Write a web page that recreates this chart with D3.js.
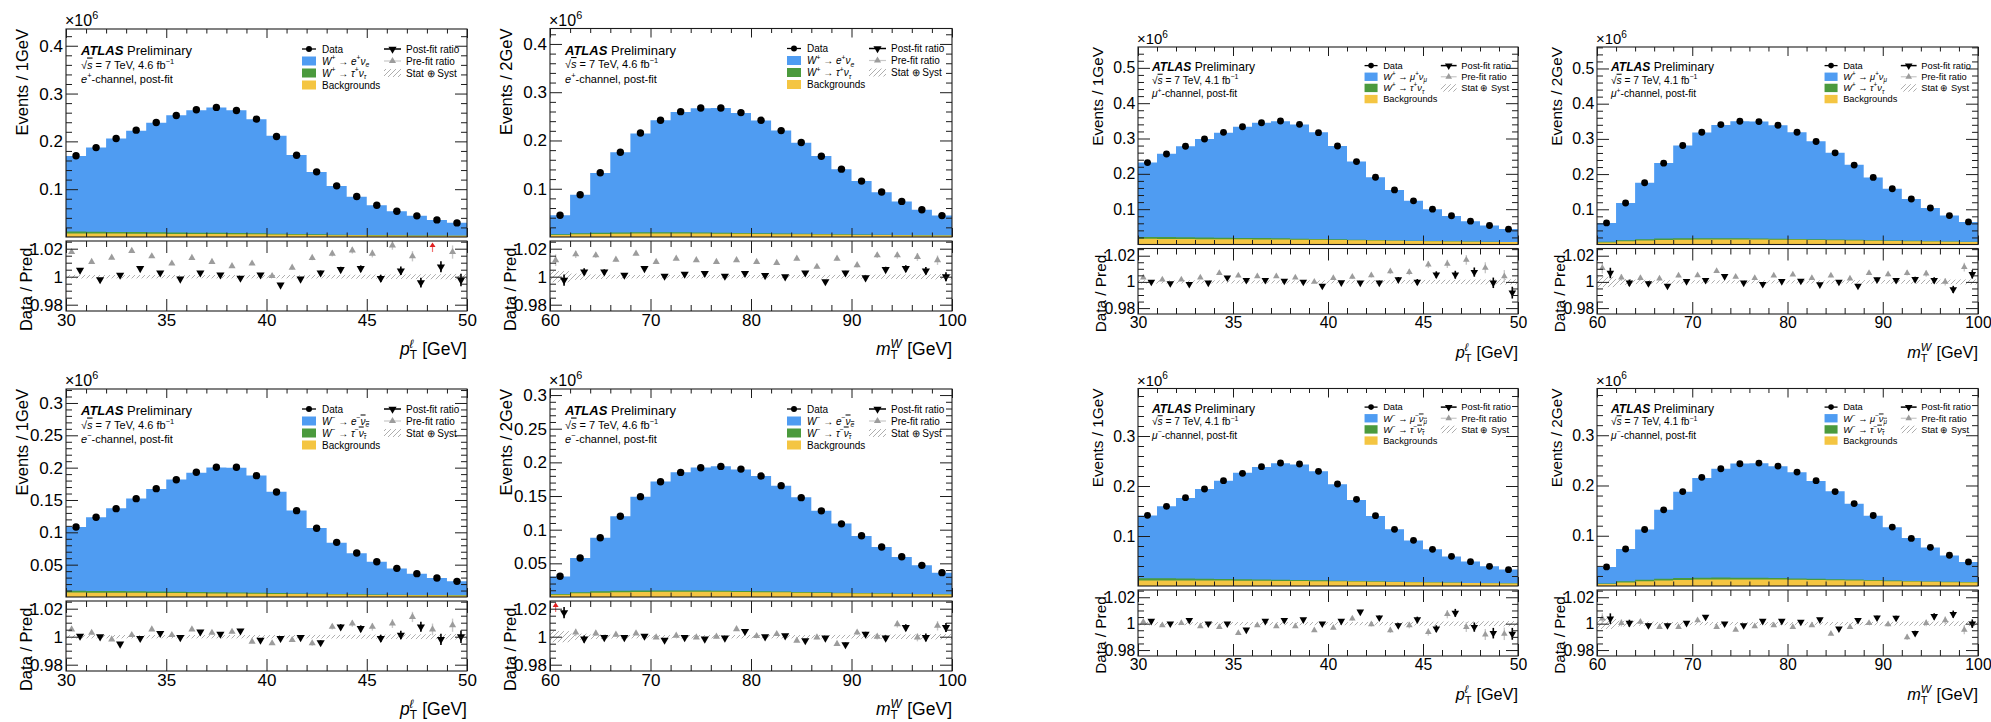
<!DOCTYPE html>
<html><head><meta charset="utf-8">
<script src="https://cdn.jsdelivr.net/npm/d3@7"></script>
<style>body{margin:0;background:#fff}svg{display:block}</style>
</head><body>
<svg id="c" width="1991" height="722"></svg>
<script>
// ---------------- data (values in units of 10^6 events) ----------------
const ptEdges = [30,31,32,33,34,35,36,37,38,39,40,41,42,43,44,45,46,47,48,49,50];
const mtEdges = [60,62,64,66,68,70,72,74,76,78,80,82,84,86,88,90,92,94,96,98,100];
const ptTickLabels = [30,35,40,45,50];
const mtTickLabels = [60,70,80,90,100];
const ratioTickLabels = [0.98,1,1.02];
const yTicksEPlus = [0.1,0.2,0.3,0.4];
const yTicksMuPlus = [0.1,0.2,0.3,0.4,0.5];
const yTicksEMinus = [0.05,0.1,0.15,0.2,0.25,0.3];
const yTicksMuMinus = [0.1,0.2,0.3];

const ePlusPtData = [0.170,0.187,0.206,0.2235,0.2396,0.254,0.266,0.271,0.2647,0.2466,0.2103,0.171,0.1363,0.107,0.0847,0.0665,0.054,0.0442,0.0358,0.0295];
const ePlusPtBkg  = [0.0075,0.0073,0.0071,0.0069,0.0067,0.0065,0.0063,0.0061,0.0058,0.0055,0.0051,0.0047,0.0043,0.0039,0.0036,0.0033,0.003,0.0028,0.0026,0.0024];
const ePlusPtTau  = [0.004,0.0038,0.0036,0.0034,0.0032,0.003,0.0028,0.0026,0.0024,0.0021,0.0018,0.0015,0.0012,0.001,0.0008,0.0007,0.0006,0.0005,0.0004,0.0004];
const ePlusPtPre  = [1.0176,1.0106,1.0136,1.0184,1.0146,1.0094,1.0134,1.0106,1.0075,1.0094,1.0005,1.0064,1.0134,1.0165,1.0188,1.0165,1.0224,1.0146,1.031,1.0176];
const ePlusPtPost = [1.0047,0.998,1.0012,1.0059,1.0028,0.9984,1.0028,1.0014,0.999,1.0014,0.9941,0.9984,1.0028,1.0052,1.0059,0.9988,1.0042,0.9958,1.0071,0.9976];

const ePlusMtData = [0.045,0.0876,0.133,0.1757,0.2156,0.2418,0.2597,0.2673,0.2673,0.2577,0.2418,0.2205,0.1957,0.1674,0.1406,0.1158,0.0931,0.0738,0.0566,0.0443];
const ePlusMtBkg  = [0.004,0.0055,0.0063,0.0068,0.0071,0.0072,0.0072,0.0071,0.0069,0.0066,0.0063,0.0059,0.0055,0.0051,0.0047,0.0043,0.0039,0.0035,0.0032,0.0029];
const ePlusMtTau  = [0.0015,0.0022,0.0025,0.0026,0.0026,0.0025,0.0024,0.0022,0.002,0.0018,0.0016,0.0014,0.0012,0.001,0.0009,0.0008,0.0007,0.0006,0.0005,0.0004];
const ePlusMtPre  = [1.0118,1.016,1.0153,1.0122,1.0165,1.0106,1.0129,1.0118,1.0106,1.0118,1.0106,1.0099,1.0129,1.0071,1.0129,1.0082,1.0153,1.0153,1.0141,1.0118];
const ePlusMtPost = [0.9976,1.0035,1.0035,1.0012,1.0059,1.0005,1.0019,1.0024,1.0005,1.0024,1.0009,1.0,1.0028,0.9965,1.0028,0.9993,1.0052,1.0059,1.0042,1.0];

const muPlusPtData = [0.2318,0.2562,0.2779,0.2986,0.3174,0.3334,0.3447,0.3494,0.34,0.3165,0.2788,0.2346,0.1904,0.1546,0.1235,0.1,0.0812,0.0661,0.0539,0.0435];
const muPlusPtBkg  = [0.016,0.0158,0.0155,0.0152,0.015,0.0147,0.0144,0.014,0.0136,0.0131,0.0125,0.0118,0.0111,0.0104,0.0097,0.009,0.0084,0.0078,0.0073,0.0068];
const muPlusPtTau  = [0.0055,0.0052,0.0049,0.0046,0.0043,0.004,0.0037,0.0034,0.003,0.0026,0.0022,0.0018,0.0015,0.0012,0.001,0.0008,0.0007,0.0006,0.0005,0.0004];
const muPlusPtPre  = [1.0033,1.0018,1.0018,1.0033,1.0068,1.0048,1.0043,1.0043,1.0033,1.0,1.003,1.0038,1.005,1.008,1.0075,1.0133,1.0138,1.0168,1.0108,1.0043];
const muPlusPtPost = [1.0,0.9988,0.9983,0.9993,1.0033,1.0013,1.0013,1.0008,1.0,0.997,0.9995,0.9993,0.9993,1.0018,1.0,1.0055,1.0055,1.0075,0.9993,0.9918];

const muPlusMtData = [0.0613,0.1179,0.1755,0.2311,0.2811,0.3189,0.3406,0.35,0.3491,0.3387,0.3189,0.2925,0.2604,0.2255,0.1906,0.1585,0.1292,0.1038,0.0821,0.0642];
const muPlusMtBkg  = [0.006,0.0095,0.0115,0.0128,0.0136,0.014,0.0142,0.0142,0.014,0.0137,0.0133,0.0128,0.0122,0.0115,0.0108,0.01,0.0093,0.0086,0.0079,0.0073];
const muPlusMtTau  = [0.0015,0.0028,0.0036,0.004,0.0041,0.004,0.0038,0.0035,0.0032,0.0029,0.0026,0.0023,0.002,0.0017,0.0015,0.0013,0.0011,0.0009,0.0008,0.0007];
const muPlusMtPre  = [1.0105,1.0033,1.003,1.0025,1.0048,1.005,1.0083,1.0038,1.003,1.0048,1.0055,1.003,1.0048,1.0025,1.0068,1.0058,1.0068,1.0063,1.0,1.0113];
const muPlusMtPost = [1.0068,0.9993,0.9988,0.997,1.0005,1.0013,1.0043,0.9993,0.9983,1.0005,1.0008,0.998,1.0,0.997,1.0018,1.0013,1.002,1.0013,0.9943,1.0058];

const eMinusPtData = [0.1082,0.1232,0.1366,0.1521,0.1675,0.1814,0.1928,0.2005,0.2005,0.1876,0.1624,0.1335,0.1062,0.0845,0.068,0.0546,0.0443,0.0361,0.0294,0.0242];
const eMinusPtBkg  = [0.0068,0.0067,0.0065,0.0064,0.0062,0.006,0.0058,0.0056,0.0054,0.0051,0.0048,0.0045,0.0041,0.0038,0.0035,0.0032,0.003,0.0028,0.0026,0.0024];
const eMinusPtTau  = [0.0028,0.0027,0.0026,0.0025,0.0024,0.0022,0.0021,0.0019,0.0017,0.0015,0.0013,0.0011,0.0009,0.0008,0.0007,0.0006,0.0005,0.0004,0.0004,0.0003];
const eMinusPtPre  = [1.0052,1.0028,0.9981,1.0012,1.0052,1.0012,1.0052,1.0028,1.0035,0.9965,0.9953,0.9976,0.9953,1.0071,1.0094,1.0071,1.0094,1.0141,1.0052,1.0082];
const eMinusPtPost = [1.0005,1.0,0.9948,0.9988,1.0024,0.9995,1.0035,1.0019,1.0042,0.9976,0.9988,0.9995,0.9958,1.0071,1.0059,0.9988,1.0012,1.0071,0.9981,1.0];

const eMinusMtData = [0.0308,0.0579,0.088,0.12,0.1491,0.1713,0.1851,0.192,0.194,0.19,0.1797,0.1654,0.1476,0.128,0.1087,0.0909,0.0742,0.0599,0.047,0.0362];
const eMinusMtBkg  = [0.0035,0.0055,0.0065,0.0071,0.0075,0.0077,0.0078,0.0078,0.0077,0.0075,0.0072,0.0069,0.0065,0.0061,0.0057,0.0053,0.0049,0.0045,0.0041,0.0038];
const eMinusMtTau  = [0.001,0.0016,0.0019,0.002,0.002,0.0019,0.0018,0.0017,0.0016,0.0014,0.0013,0.0012,0.001,0.0009,0.0008,0.0007,0.0006,0.0005,0.0005,0.0004];
const eMinusMtPre  = [1.03,1.003,1.0024,1.0014,1.0024,0.9995,1.0007,0.9995,1.0,1.0054,1.0005,1.0019,0.9972,0.9995,0.9948,1.003,1.0,1.0089,0.9995,1.0078];
const eMinusMtPost = [1.0172,0.9984,0.9995,0.9995,1.0005,0.9976,0.9995,0.9984,0.9991,1.0038,1.0,1.0007,0.9972,0.9991,0.9944,1.0019,0.9991,1.0066,0.9995,1.0066];

const muMinusPtData = [0.1413,0.1593,0.1767,0.194,0.2107,0.2253,0.2387,0.246,0.244,0.2293,0.204,0.1733,0.1407,0.1133,0.0913,0.0733,0.0593,0.0487,0.0393,0.0327];
const muMinusPtBkg  = [0.0112,0.0111,0.011,0.0109,0.0108,0.0106,0.0104,0.0102,0.01,0.0097,0.0093,0.0088,0.0083,0.0078,0.0073,0.0068,0.0063,0.0058,0.0054,0.005];
const muMinusPtTau  = [0.0045,0.0043,0.004,0.0037,0.0034,0.0031,0.0027,0.0024,0.002,0.0017,0.0014,0.0012,0.001,0.0008,0.0007,0.0006,0.0005,0.0004,0.0003,0.0003];
const muMinusPtPre  = [1.0013,0.9987,1.0005,0.9979,0.9974,0.9928,0.9987,0.9979,0.9979,0.9949,0.9969,1.0038,0.9995,0.9949,0.9987,0.9936,1.0072,0.9974,0.9918,0.9923];
const muMinusPtPost = [1.002,1.0,1.0026,1.0,1.0,0.9954,1.002,1.0026,1.0031,1.0,1.002,1.009,1.0046,0.9987,1.0031,0.9962,1.0082,0.9974,0.9928,0.9923];

const muMinusMtData = [0.038,0.0736,0.1125,0.1515,0.1878,0.2162,0.2333,0.2432,0.2446,0.2386,0.2267,0.2096,0.1878,0.164,0.1403,0.1172,0.0947,0.0769,0.0611,0.0479];
const muMinusMtBkg  = [0.004,0.0072,0.0095,0.011,0.012,0.0127,0.013,0.0131,0.013,0.0128,0.0125,0.0121,0.0116,0.011,0.0104,0.0097,0.009,0.0083,0.0077,0.0071];
const muMinusMtTau  = [0.001,0.0022,0.0031,0.0036,0.0038,0.0038,0.0037,0.0035,0.0032,0.0029,0.0026,0.0023,0.002,0.0018,0.0015,0.0013,0.0011,0.0009,0.0008,0.0007];
const muMinusMtPre  = [1.0038,1.0005,1.0013,0.9974,0.9974,1.0026,0.9974,0.9954,0.9979,0.9987,0.9974,0.9987,0.9923,0.9974,1.0005,0.9995,0.9897,1.0005,1.0026,0.9954];
const muMinusMtPost = [1.0038,1.0005,0.9987,0.9987,1.0005,1.0051,1.0,0.9987,1.002,1.002,1.0013,1.0031,0.9962,1.0026,1.0046,1.0044,0.9928,1.0056,1.0072,1.0];

// ratio uncertainties (half-widths)
const errPt  = [0.001,0.001,0.001,0.001,0.001,0.001,0.001,0.001,0.001,0.001,0.0012,0.0014,0.0016,0.0019,0.0022,0.0026,0.003,0.0035,0.004,0.0045];
const errMt  = [0.004,0.0025,0.0018,0.0014,0.0012,0.001,0.001,0.001,0.001,0.001,0.001,0.001,0.0011,0.0012,0.0014,0.0016,0.0019,0.0023,0.0027,0.0032];
const bandPt = [0.0013,0.0012,0.0012,0.0012,0.0012,0.0012,0.0012,0.0012,0.0012,0.0012,0.0012,0.0012,0.0013,0.0013,0.0014,0.0015,0.0016,0.0017,0.0018,0.002];
const bandMt = [0.004,0.0022,0.0016,0.0013,0.0012,0.0012,0.0012,0.0012,0.0012,0.0012,0.0012,0.0012,0.0012,0.0013,0.0013,0.0014,0.0015,0.0016,0.0017,0.0019];

// ---------------- layout / style ----------------
const FONT = '"Liberation Sans", Arial, Helvetica, sans-serif';
const BLUE = '#4f9cf2', GREEN = '#4b9a3d', YELLOW = '#f4c542', FRAME = '#1c1c1c';
const PREC = '#9c9c9c', PREERR = '#c8c8c8';
const RATIO_DOMAIN = [0.9755, 1.0255];

const L1 = {x0:66, x1:467}, L2 = {x0:550, x1:952}, R1 = {x0:1138, x1:1518}, R2 = {x0:1597, x1:1978};
const TOPL = {top:29, mainBot:237, rTop:241, rBot:311, s:1};
const BOTL = {top:389, mainBot:597, rTop:601, rBot:671, s:1};
const TOPR = {top:47, mainBot:244.5, rTop:248.5, rBot:314, s:0.93};
const BOTR = {top:388.5, mainBot:586, rTop:590, rBot:656, s:0.93};

const panels = [
  {pos:{...L1,...TOPL}, kind:'pt', data:ePlusPtData, bkg:ePlusPtBkg, tau:ePlusPtTau, pre:ePlusPtPre, post:ePlusPtPost, yMax:0.435, yTicks:yTicksEPlus, yMinor:0.02, lep:'e', ch:'+', lumi:'4.6'},
  {pos:{...L2,...TOPL, top:28.5}, kind:'mt', data:ePlusMtData, bkg:ePlusMtBkg, tau:ePlusMtTau, pre:ePlusMtPre, post:ePlusMtPost, yMax:0.432, yTicks:yTicksEPlus, yMinor:0.02, lep:'e', ch:'+', lumi:'4.6'},
  {pos:{...R1,...TOPR}, kind:'pt', data:muPlusPtData, bkg:muPlusPtBkg, tau:muPlusPtTau, pre:muPlusPtPre, post:muPlusPtPost, yMax:0.559, yTicks:yTicksMuPlus, yMinor:0.02, lep:'μ', ch:'+', lumi:'4.1'},
  {pos:{...R2,...TOPR}, kind:'mt', data:muPlusMtData, bkg:muPlusMtBkg, tau:muPlusMtTau, pre:muPlusMtPre, post:muPlusMtPost, yMax:0.561, yTicks:yTicksMuPlus, yMinor:0.02, lep:'μ', ch:'+', lumi:'4.1'},
  {pos:{...L1,...BOTL}, kind:'pt', data:eMinusPtData, bkg:eMinusPtBkg, tau:eMinusPtTau, pre:eMinusPtPre, post:eMinusPtPost, yMax:0.3216, yTicks:yTicksEMinus, yMinor:0.01, lep:'e', ch:'−', lumi:'4.6'},
  {pos:{...L2,...BOTL}, kind:'mt', data:eMinusMtData, bkg:eMinusMtBkg, tau:eMinusMtTau, pre:eMinusMtPre, post:eMinusMtPost, yMax:0.309, yTicks:yTicksEMinus, yMinor:0.01, lep:'e', ch:'−', lumi:'4.6'},
  {pos:{...R1,...BOTR}, kind:'pt', data:muMinusPtData, bkg:muMinusPtBkg, tau:muMinusPtTau, pre:muMinusPtPre, post:muMinusPtPost, yMax:0.395, yTicks:yTicksMuMinus, yMinor:0.02, lep:'μ', ch:'−', lumi:'4.1'},
  {pos:{...R2,...BOTR}, kind:'mt', data:muMinusMtData, bkg:muMinusMtBkg, tau:muMinusMtTau, pre:muMinusMtPre, post:muMinusMtPost, yMax:0.393, yTicks:yTicksMuMinus, yMinor:0.02, lep:'μ', ch:'−', lumi:'4.1'}
];

const svg = d3.select('#c').attr('font-family', FONT);
const defs = svg.append('defs');
const pat = defs.append('pattern').attr('id','hatch').attr('patternUnits','userSpaceOnUse')
  .attr('width',5).attr('height',5);
pat.append('path').attr('d','M-1,1 l2,-2 M0,5 l5,-5 M4,6 l2,-2')
  .attr('stroke','#999').attr('stroke-width',0.8);

function rich(t, segs, fs) {
  let off = 0;
  segs.forEach(sg => {
    const target = sg.sup ? -fs*0.42 : (sg.sub ? fs*0.25 : 0);
    const ts = t.append('tspan').text(sg.t).attr('dy', target - off);
    off = target;
    if (sg.sup || sg.sub) ts.attr('font-size', fs*0.68);
    if (sg.i) ts.attr('font-style','italic');
    if (sg.b) ts.attr('font-weight','bold');
    if (sg.o) ts.style('text-decoration','overline');
    if (sg.dx) ts.attr('dx', sg.dx);
  });
  return t;
}

function drawPanel(p, idx) {
  const P = p.pos, s = P.s;
  const g = svg.append('g');
  const edges = p.kind === 'pt' ? ptEdges : mtEdges;
  const majors = p.kind === 'pt' ? ptTickLabels : mtTickLabels;
  const err = p.kind === 'pt' ? errPt : errMt;
  const band = p.kind === 'pt' ? bandPt : bandMt;
  const n = edges.length - 1;
  const bw = edges[1] - edges[0];
  const centers = edges.slice(0, n).map((e, i) => (e + edges[i+1]) / 2);

  const x = d3.scaleLinear().domain([edges[0], edges[n]]).range([P.x0, P.x1]);
  const y = d3.scaleLinear().domain([0, p.yMax]).range([P.mainBot, P.top]);
  const yr = d3.scaleLinear().domain(RATIO_DOMAIN).range([P.rBot, P.rTop]);

  // stacked histograms
  const total = p.data.map((d, i) => d / p.post[i]);
  const bkgTau = p.bkg.map((b, i) => b + p.tau[i]);
  const steps = arr => edges.map((e, i) => ({e, v: arr[Math.min(i, n-1)]}));
  const area = d3.area().curve(d3.curveStepAfter).x(d => x(d.e)).y0(y(0)).y1(d => y(d.v));
  g.append('path').attr('d', area(steps(total))).attr('fill', BLUE);
  g.append('path').attr('d', area(steps(bkgTau))).attr('fill', GREEN);
  g.append('path').attr('d', area(steps(p.bkg))).attr('fill', YELLOW);

  // data points
  g.append('g').selectAll('circle').data(p.data).join('circle')
    .attr('cx', (d, i) => x(centers[i])).attr('cy', d => y(d))
    .attr('r', 3.7*s).attr('fill', '#000');

  // ratio panel
  const clipId = 'rclip' + idx;
  defs.append('clipPath').attr('id', clipId).append('rect')
    .attr('x', P.x0).attr('y', P.rTop).attr('width', P.x1 - P.x0).attr('height', P.rBot - P.rTop);
  const rg = g.append('g').attr('clip-path', `url(#${clipId})`);
  rg.selectAll('rect.band').data(band).join('rect')
    .attr('x', (d, i) => x(edges[i])).attr('width', (d, i) => x(edges[i+1]) - x(edges[i]))
    .attr('y', d => yr(1 + d)).attr('height', d => yr(1 - d) - yr(1 + d))
    .attr('fill', 'url(#hatch)');

  const triUp = d3.symbol(d3.symbolTriangle, 22*s*s);
  const triDown = d3.symbol(d3.symbolTriangle, 29*s*s);
  const preX = i => x(centers[i] - 0.22*bw);
  const postX = i => x(centers[i] + 0.2*bw);
  const inRange = v => v <= RATIO_DOMAIN[1] && v >= RATIO_DOMAIN[0];

  // pre-fit
  rg.selectAll('line.preErr').data(p.pre).join('line')
    .attr('x1', (d, i) => preX(i)).attr('x2', (d, i) => preX(i))
    .attr('y1', (d, i) => yr(d + err[i]*1.05)).attr('y2', (d, i) => yr(d - err[i]*1.05))
    .attr('stroke', PREERR).attr('stroke-width', 1.4)
    .attr('display', d => inRange(d) ? null : 'none');
  rg.selectAll('path.pre').data(p.pre).join('path')
    .attr('d', triUp).attr('fill', PREC)
    .attr('transform', (d, i) => `translate(${preX(i)},${yr(d)})`)
    .attr('display', d => inRange(d) ? null : 'none');
  // out-of-range arrows
  p.pre.forEach((d, i) => {
    if (d > RATIO_DOMAIN[1]) {
      const xa = preX(i), ya = P.rTop;
      g.append('line').attr('x1', xa).attr('x2', xa).attr('y1', ya + 11).attr('y2', ya + 4)
        .attr('stroke', '#f07070').attr('stroke-width', 1.2);
      g.append('path').attr('d', `M${xa-3},${ya+6} L${xa},${ya+1.5} L${xa+3},${ya+6} Z`).attr('fill', '#e02020');
    }
  });
  // post-fit
  rg.selectAll('line.postErr').data(p.post).join('line')
    .attr('x1', (d, i) => postX(i)).attr('x2', (d, i) => postX(i))
    .attr('y1', (d, i) => yr(d + err[i])).attr('y2', (d, i) => yr(d - err[i]))
    .attr('stroke', '#000').attr('stroke-width', 1.6);
  rg.selectAll('path.post').data(p.post).join('path')
    .attr('d', triDown).attr('fill', '#000')
    .attr('transform', (d, i) => `translate(${postX(i)},${yr(d)}) rotate(180)`);

  // frames
  [[P.top, P.mainBot], [P.rTop, P.rBot]].forEach(([a, b]) => {
    g.append('rect').attr('x', P.x0).attr('y', a).attr('width', P.x1 - P.x0).attr('height', b - a)
      .attr('fill', 'none').attr('stroke', FRAME).attr('stroke-width', 1.1);
  });

  // axes helpers
  const fsTick = 17*s;
  function ax(gen, vals, size, tr, fmt) {
    const a = gen.tickValues(vals).tickSize(-size).tickPadding(3*s).tickFormat(fmt || '');
    const ag = g.append('g').attr('transform', tr).call(a);
    ag.select('.domain').remove();
    ag.selectAll('line').attr('stroke', FRAME).attr('stroke-width', 1);
    ag.attr('font-family', FONT).attr('font-size', fsTick);
    ag.selectAll('text').attr('fill', '#000');
    return ag;
  }
  const xMinor = edges.filter(e => !majors.includes(e));
  // main x
  ax(d3.axisBottom(x), majors, 9, `translate(0,${P.mainBot})`);
  ax(d3.axisBottom(x), xMinor, 4.5, `translate(0,${P.mainBot})`);
  ax(d3.axisTop(x), majors, 9, `translate(0,${P.top})`);
  ax(d3.axisTop(x), xMinor, 4.5, `translate(0,${P.top})`);
  // ratio x
  ax(d3.axisBottom(x), majors, 12, `translate(0,${P.rBot})`, d => String(d));
  ax(d3.axisBottom(x), xMinor, 6, `translate(0,${P.rBot})`);
  ax(d3.axisTop(x), majors, 12, `translate(0,${P.rTop})`);
  ax(d3.axisTop(x), xMinor, 6, `translate(0,${P.rTop})`);
  // main y
  const nMinor = Math.floor(p.yMax / p.yMinor + 1e-6);
  const yMinorVals = d3.range(1, nMinor + 1).map(k => +(k * p.yMinor).toFixed(4))
    .filter(v => !p.yTicks.some(t => Math.abs(t - v) < 1e-6));
  ax(d3.axisLeft(y), p.yTicks, 12, `translate(${P.x0},0)`, d => String(d));
  ax(d3.axisLeft(y), yMinorVals, 6, `translate(${P.x0},0)`);
  ax(d3.axisRight(y), p.yTicks, 12, `translate(${P.x1},0)`);
  ax(d3.axisRight(y), yMinorVals, 6, `translate(${P.x1},0)`);
  // ratio y
  const rMinor = d3.range(-5, 6).map(k => +(1 + k*0.005).toFixed(4))
    .filter(v => !ratioTickLabels.includes(v) && inRange(v));
  ax(d3.axisLeft(yr), ratioTickLabels, 12, `translate(${P.x0},0)`, d => String(d));
  ax(d3.axisLeft(yr), rMinor, 6, `translate(${P.x0},0)`);
  ax(d3.axisRight(yr), ratioTickLabels, 12, `translate(${P.x1},0)`);
  ax(d3.axisRight(yr), rMinor, 6, `translate(${P.x1},0)`);

  // axis titles
  const fsTitle = 16.5*s;
  g.append('text').attr('transform', `translate(${P.x0 - 38*s},${P.top}) rotate(-90)`)
    .attr('text-anchor', 'end').attr('font-size', fsTitle)
    .text(p.kind === 'pt' ? 'Events / 1GeV' : 'Events / 2GeV');
  g.append('text').attr('transform', `translate(${P.x0 - 34*s},${P.rTop + 2}) rotate(-90)`)
    .attr('text-anchor', 'end').attr('font-size', fsTitle).text('Data / Pred.');
  const fsX = 17.5*s;
  const xt = g.append('text').attr('x', P.x1).attr('y', P.rBot + 44).attr('text-anchor', 'end').attr('font-size', fsX);
  if (p.kind === 'pt') {
    rich(xt, [{t:'p', i:1}, {t:'T', sub:1}, {t:'ℓ', sup:1, i:1, dx:-0.42*fsX}, {t:'[GeV]', dx:0.5*fsX}], fsX);
  } else {
    rich(xt, [{t:'m', i:1}, {t:'T', sub:1}, {t:'W', sup:1, i:1, dx:-0.42*fsX}, {t:'[GeV]', dx:0.32*fsX}], fsX);
  }
  // x10^6
  const fsE = 16*s;
  rich(g.append('text').attr('x', P.x0 - 1).attr('y', P.top - 3).attr('font-size', fsE),
    [{t:'×10'}, {t:'6', sup:1}], fsE);

  // ATLAS label
  const ax0 = P.x0 + 15*s;
  rich(g.append('text').attr('x', ax0).attr('y', P.top + 26*s).attr('font-size', 13*s),
    [{t:'ATLAS', b:1, i:1}, {t:' Preliminary'}], 13*s);
  rich(g.append('text').attr('x', ax0).attr('y', P.top + 39.5*s).attr('font-size', 11*s),
    [{t:'√'}, {t:'s', i:1, o:1}, {t:' = 7 TeV, ' + p.lumi + ' fb'}, {t:'−1', sup:1}], 11*s);
  rich(g.append('text').attr('x', ax0).attr('y', P.top + 54*s).attr('font-size', 11*s),
    [{t:p.lep, i:1}, {t:p.ch, sup:1}, {t:'-channel, post-fit'}], 11*s);

  // legend
  const R = P.x1, fsL = 10*s;
  const rowY = k => P.top + (20 + 12*k)*s;
  const c1a = R - 165*s, c1b = R - 151*s, t1 = R - 145*s;
  const c2a = R - 83*s, c2b = R - 66*s, t2 = R - 61*s;
  const lt = (xx, k) => g.append('text').attr('x', xx).attr('y', rowY(k) + 3.5*s).attr('font-size', fsL);
  // Data
  g.append('line').attr('x1', c1a).attr('x2', c1b).attr('y1', rowY(0)).attr('y2', rowY(0)).attr('stroke', '#000').attr('stroke-width', 1.3);
  g.append('circle').attr('cx', (c1a + c1b)/2).attr('cy', rowY(0)).attr('r', 3*s).attr('fill', '#000');
  lt(t1, 0).text('Data');
  // boxes
  [[BLUE, 1], [GREEN, 2], [YELLOW, 3]].forEach(([col, k]) => {
    g.append('rect').attr('x', c1a).attr('y', rowY(k) - 4.5*s).attr('width', c1b - c1a).attr('height', 9*s).attr('fill', col);
  });
  const bar = p.ch === '−';
  rich(lt(t1, 1), [{t:'W', i:1}, {t:p.ch, sup:1}, {t:' → '}, {t:p.lep, i:1}, {t:p.ch, sup:1}, {t:'ν', i:1, o:bar}, {t:p.lep, sub:1, i:1, o:bar}], fsL);
  rich(lt(t1, 2), [{t:'W', i:1}, {t:p.ch, sup:1}, {t:' → '}, {t:'τ', i:1}, {t:p.ch, sup:1}, {t:'ν', i:1, o:bar}, {t:'τ', sub:1, i:1, o:bar}], fsL);
  lt(t1, 3).text('Backgrounds');
  // right column
  g.append('line').attr('x1', c2a).attr('x2', c2b).attr('y1', rowY(0)).attr('y2', rowY(0)).attr('stroke', '#000').attr('stroke-width', 1.5);
  g.append('path').attr('d', triDown).attr('fill', '#000').attr('transform', `translate(${(c2a + c2b)/2},${rowY(0)}) rotate(180)`);
  lt(t2, 0).text('Post-fit ratio');
  g.append('line').attr('x1', c2a).attr('x2', c2b).attr('y1', rowY(1)).attr('y2', rowY(1)).attr('stroke', PREERR).attr('stroke-width', 1.2);
  g.append('path').attr('d', triUp).attr('fill', PREC).attr('transform', `translate(${(c2a + c2b)/2},${rowY(1)})`);
  lt(t2, 1).text('Pre-fit ratio');
  g.append('rect').attr('x', c2a).attr('y', rowY(2) - 4*s).attr('width', c2b - c2a).attr('height', 8*s).attr('fill', 'url(#hatch)');
  lt(t2, 2).text('Stat ⊕ Syst');
}

panels.forEach(drawPanel);
</script>
</body></html>
